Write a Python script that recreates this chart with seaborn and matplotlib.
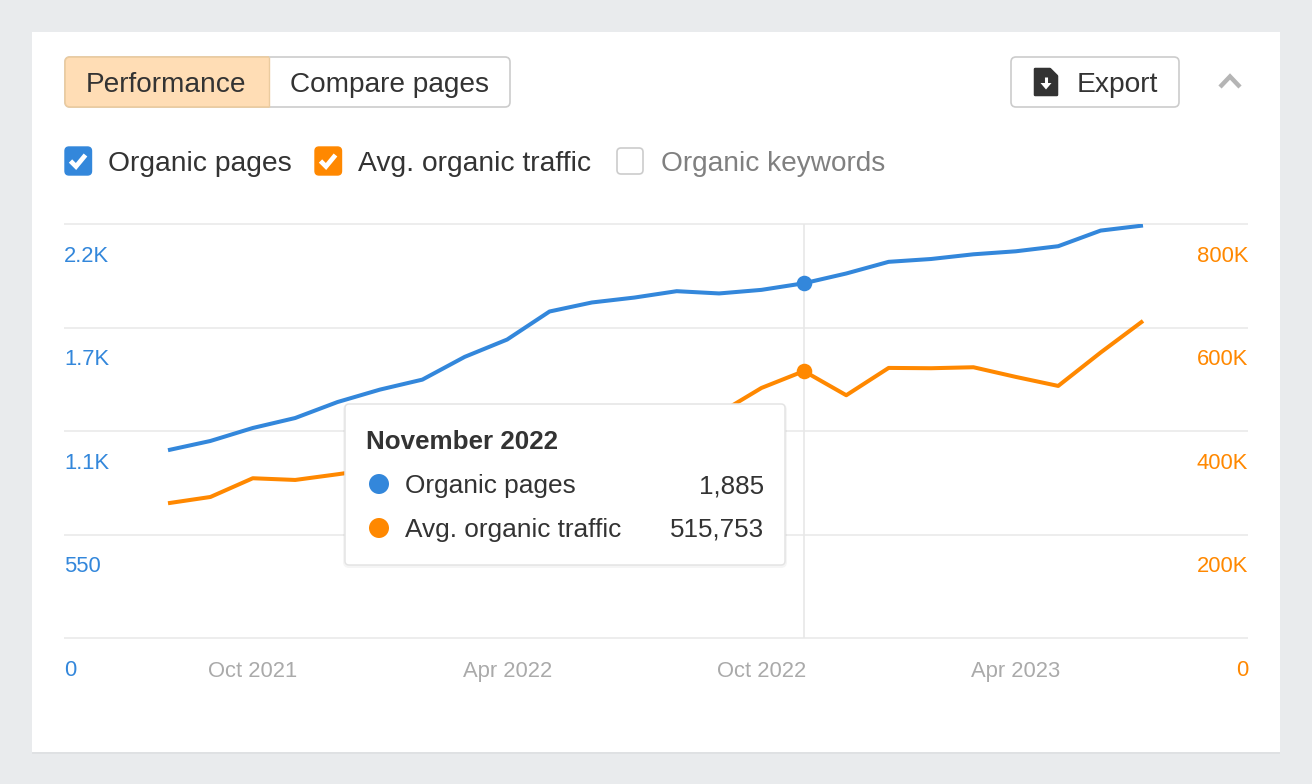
import matplotlib
matplotlib.use("Agg")
import matplotlib.pyplot as plt
from matplotlib.patches import FancyBboxPatch, Rectangle, Polygon, Circle
from matplotlib.transforms import ScaledTranslation
import pandas as pd
import seaborn as sns

months = ["Aug 2021", "Sep 2021", "Oct 2021", "Nov 2021", "Dec 2021", "Jan 2022",
          "Feb 2022", "Mar 2022", "Apr 2022", "May 2022", "Jun 2022", "Jul 2022",
          "Aug 2022", "Sep 2022", "Oct 2022", "Nov 2022", "Dec 2022", "Jan 2023",
          "Feb 2023", "Mar 2023", "Apr 2023", "May 2023", "Jun 2023", "Jul 2023"]
organic_pages = [998, 1047, 1116, 1169, 1254, 1320, 1373, 1494, 1586, 1735, 1783, 1809,
                 1843, 1831, 1850, 1885, 1937, 1999, 2014, 2039, 2055, 2082, 2165, 2192]
# Jan-Sep 2022 of this series lie behind the tooltip and are estimates.
organic_traffic = [260400, 272500, 308700, 305400, 316400, 328000, 343000, 359000, 372000,
                   382000, 392000, 401000, 411000, 434000, 483200, 515753, 469100, 521900,
                   521300, 523200, 504500, 487100, 551600, 612700]
left_ticks = [0, 550, 1100, 1650, 2200]
left_labels = ["0", "550", "1.1K", "1.7K", "2.2K"]
right_ticks = [0, 200000, 400000, 600000, 800000]
right_labels = ["0", "200K", "400K", "600K", "800K"]
x_tick_months = ["Oct 2021", "Apr 2022", "Oct 2022", "Apr 2023"]
hover_month = "November 2022"
hover_index = months.index("Nov 2022")

BLUE = "#3387DB"
ORANGE = "#FF8800"
GRID = "#EDEDED"
INK = "#333333"
FONT = "Liberation Sans"

sns.set_theme(style="white")
plt.rcParams["font.family"] = [FONT, "DejaVu Sans"]

W, H = 1312, 784
fig = plt.figure(figsize=(W / 100, H / 100), dpi=100, facecolor="#E9EBED")


def px(size):
    return size * 0.72


def overlay(z):
    a = fig.add_axes([0, 0, 1, 1], zorder=z)
    a.set_xlim(0, W)
    a.set_ylim(H, 0)
    a.axis("off")
    a.patch.set_alpha(0)
    return a


def rbox(a, x0, y0, x1, y1, r, **kw):
    p = FancyBboxPatch((x0 + r, y0 + r), x1 - x0 - 2 * r, y1 - y0 - 2 * r,
                       boxstyle=f"round,pad={r},rounding_size={r}", **kw)
    a.add_patch(p)
    return p


# page card
bg = overlay(-1)
bg.add_patch(Rectangle((32, 33), 1248, 720.5, fc="#DFE1E3", ec="none"))
bg.add_patch(Rectangle((32, 32), 1248, 720, fc="white", ec="none"))

# chart
df = pd.DataFrame({"idx": range(len(months)), "pages": organic_pages, "traffic": organic_traffic})
top_px, base_px, left_px, right_px = 224, 638, 64, 1248
ax = fig.add_axes([left_px / W, 1 - base_px / H, (right_px - left_px) / W, (base_px - top_px) / H], zorder=1)
ax.patch.set_alpha(0)
ax2 = ax.twinx()
ax2.patch.set_alpha(0)

sns.lineplot(data=df, x="idx", y="pages", ax=ax, color=BLUE, linewidth=2.9, solid_capstyle="butt", zorder=3)
sns.lineplot(data=df, x="idx", y="traffic", ax=ax2, color=ORANGE, linewidth=2.9, solid_capstyle="butt", zorder=3)

step = (1143 - 168) / (len(months) - 1)
ax.set_xlim(-(168 - left_px) / step, (right_px - 168) / step)
ax.set_ylim(left_ticks[0], left_ticks[-1])
ax2.set_ylim(right_ticks[0], right_ticks[-1])
ax.set_xlabel("")
ax.set_ylabel("")
ax2.set_ylabel("")
ax.set_xticks([months.index(m) for m in x_tick_months], x_tick_months)
ax.set_yticks(left_ticks, left_labels)
ax2.set_yticks(right_ticks, right_labels)
ax.tick_params(axis="x", length=0, pad=px(23), labelsize=px(22), labelcolor="#AAAAAA")
ax.tick_params(axis="y", length=0, pad=0, labelsize=px(22), labelcolor=BLUE)
ax2.tick_params(axis="y", length=0, pad=0, labelsize=px(22), labelcolor=ORANGE)
ax.grid(axis="y", color=GRID, linewidth=1.4, zorder=0, solid_capstyle="butt")
ax2.grid(False)
for a in (ax, ax2):
    for s in a.spines.values():
        s.set_visible(False)
for gl in ax.get_ygridlines():
    gl.set_clip_on(False)

shift = ScaledTranslation(0, -29.5 / 100, fig.dpi_scale_trans)
for lab in ax.get_yticklabels():
    lab.set_ha("left")
    lab.set_transform(lab.get_transform() + shift)
for lab in ax2.get_yticklabels():
    lab.set_ha("right")
    lab.set_transform(lab.get_transform() + shift)

ax.axvline(hover_index, color="#E8E8E8", linewidth=1.2, zorder=1)
ax.plot([hover_index], [organic_pages[hover_index]], "o", color=BLUE, ms=11.2, mew=0, zorder=5)
ax2.plot([hover_index], [organic_traffic[hover_index]], "o", color=ORANGE, ms=11.2, mew=0, zorder=5)

# interface pieces
ui = overlay(5)

# segmented buttons
rbox(ui, 65, 57, 510, 107, 5, fc="white", ec="#CCCCCC", lw=1.2)
perf = rbox(ui, 65, 57, 300, 107, 5, fc="#FFDDB5", ec="#EBCB9F", lw=1.2)
perf.set_clip_path(Rectangle((60, 50), 208.5, 65, transform=ui.transData))
ui.plot([268.5, 268.5], [57, 107], color="#EBCB9F", lw=1.0, solid_capstyle="butt")
ui.text(166.5, 84.5, "Performance", fontsize=px(28), color=INK, ha="center", va="center")
ui.text(389, 84.5, "Compare pages", fontsize=px(28), color=INK, ha="center", va="center")

# export button
rbox(ui, 1011, 57, 1179, 107, 5, fc="white", ec="#CCCCCC", lw=1.2)
ui.add_patch(Polygon([(1035, 69), (1050, 69), (1057, 76), (1057, 95), (1035, 95)],
                     closed=True, fc=INK, ec=INK, lw=1.8, joinstyle="round"))
ui.plot([1046, 1046], [77, 84], color="white", lw=2.2, solid_capstyle="butt")
ui.add_patch(Polygon([(1040.5, 83), (1051.5, 83), (1046, 89.5)], closed=True, fc="white", ec="none"))
ui.text(1117, 84.5, "Export", fontsize=px(28.2), color=INK, ha="center", va="center")
ui.plot([1220, 1230, 1240], [87, 76.5, 87], color="#B5B5B5", lw=3.2, solid_capstyle="butt", solid_joinstyle="miter")

# checkboxes
for x0, col, label, tx in [(65, BLUE, "Organic pages", 108), (315, ORANGE, "Avg. organic traffic", 358)]:
    rbox(ui, x0, 147, x0 + 26.5, 175, 4, fc=col, ec=col, lw=1)
    ui.plot([x0 + 5.5, x0 + 11, x0 + 20.5], [161, 166.5, 155], color="white", lw=3.4,
            solid_capstyle="butt", solid_joinstyle="miter")
    ui.text(tx, 163.5, label, fontsize=px(28.3), color=INK, ha="left", va="center")
rbox(ui, 617, 148, 643, 174, 4, fc="white", ec="#CCCCCC", lw=1.2)
ui.text(661, 163.5, "Organic keywords", fontsize=px(28), color="#808080", ha="left", va="center")

# tooltip
rbox(ui, 343, 404, 787, 568, 6, fc="#000000", ec="none", alpha=0.04)
rbox(ui, 345, 404, 785, 565, 4, fc="white", ec="#E4E4E4", lw=1.1)
ui.text(366, 442, hover_month, fontsize=px(26), fontweight="bold", color=INK, ha="left", va="center")
rows = [("Organic pages", organic_pages[hover_index], BLUE, 484),
        ("Avg. organic traffic", organic_traffic[hover_index], ORANGE, 528)]
for label, value, col, y in rows:
    ui.add_patch(Circle((379, y), 10, fc=col, ec="none"))
    ui.text(405, y + 2, label, fontsize=px(26.3), color=INK, ha="left", va="center")
    ui.text(764, y + 2, f"{value:,}", fontsize=px(26), color=INK, ha="right", va="center")

fig.savefig("out.png", dpi=100, facecolor=fig.get_facecolor())
